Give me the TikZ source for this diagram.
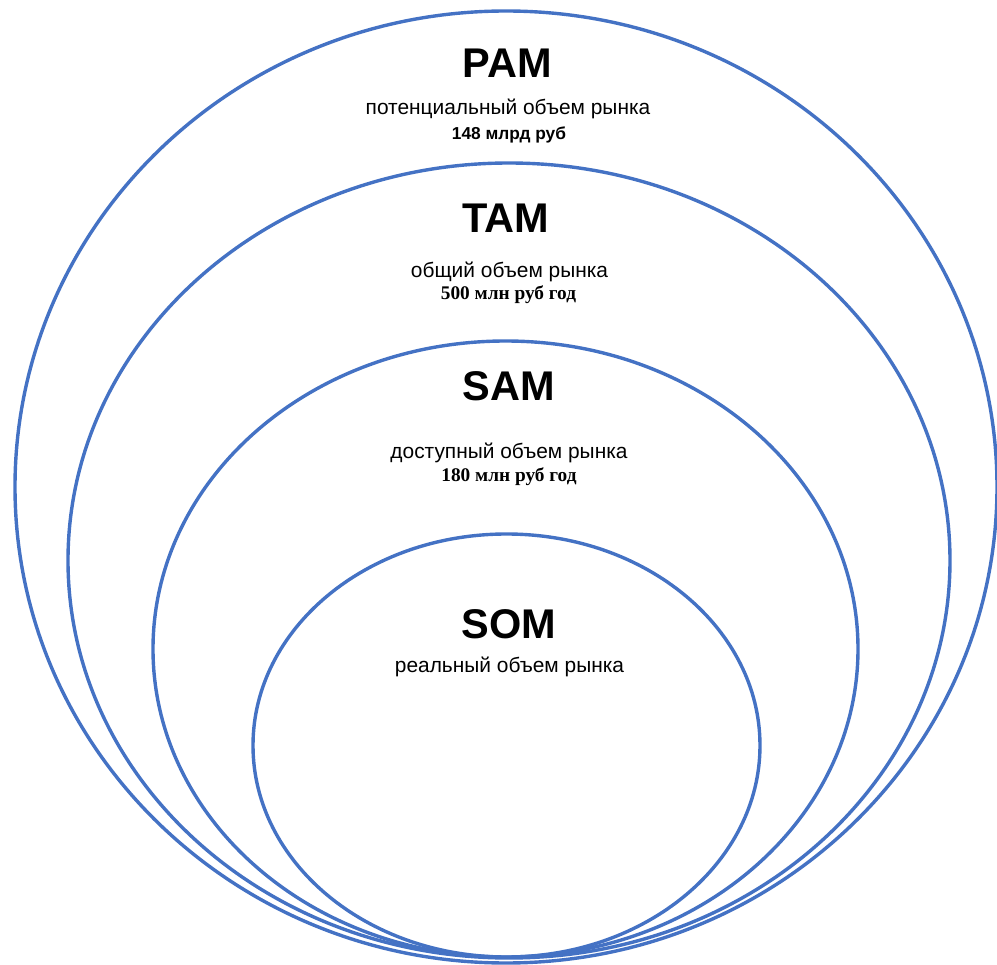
\documentclass[tikz,border=0pt]{standalone}
\usepackage{fontspec}
\setmainfont{Liberation Sans}
\newfontfamily\serifbold{Liberation Serif}
\usetikzlibrary{shapes.geometric}
\definecolor{ringblue}{HTML}{4472C4}
\tikzset{
  ring/.style={draw=ringblue, line width=3.4pt, ellipse, inner sep=0pt},
  titletext/.style={font=\fontsize{41.5}{42}\selectfont\bfseries, inner sep=0pt, anchor=center},
  subtext/.style={font=\fontsize{20.9}{21}\selectfont, inner sep=0pt},
  numsans/.style={font=\fontsize{17.3}{18}\selectfont\bfseries, inner sep=0pt},
  numserif/.style={font=\fontsize{19.3}{20}\selectfont\serifbold\bfseries, inner sep=0pt}
}
\begin{document}
\begin{tikzpicture}[x=1pt,y=-1pt]
\useasboundingbox (0,0) rectangle (997,965);
\node[ring, minimum width=982pt, minimum height=952pt] (pam) at (506,487) {};
\node[ring, minimum width=882pt, minimum height=795pt] (tam) at (509,560.5) {};
\node[ring, minimum width=705pt, minimum height=616pt] (sam) at (505.5,649) {};
\node[ring, minimum width=507pt, minimum height=423pt] (som) at (506.5,745.5) {};

\node[titletext] (pamt) at (507.5,63) {PAM};
\node[subtext] (pams) at (508,109) {потенциальный объем рынка};
\node[numsans] (pamn) at (509,135) {148 млрд руб};

\node[titletext] (tamt) at (506,218) {TAM};
\node[subtext] (tams) at (509.5,272) {общий объем рынка};
\node[numserif] (tamn) at (508.5,295) {500 млн руб год};

\node[titletext] (samt) at (509,386) {SAM};
\node[subtext] (sams) at (509,453) {доступный объем рынка};
\node[numserif] (samn) at (509,477) {180 млн руб год};

\node[titletext] (somt) at (509,624) {SOM};
\node[subtext] (soms) at (509.5,667) {реальный объем рынка};
\end{tikzpicture}
\end{document}
